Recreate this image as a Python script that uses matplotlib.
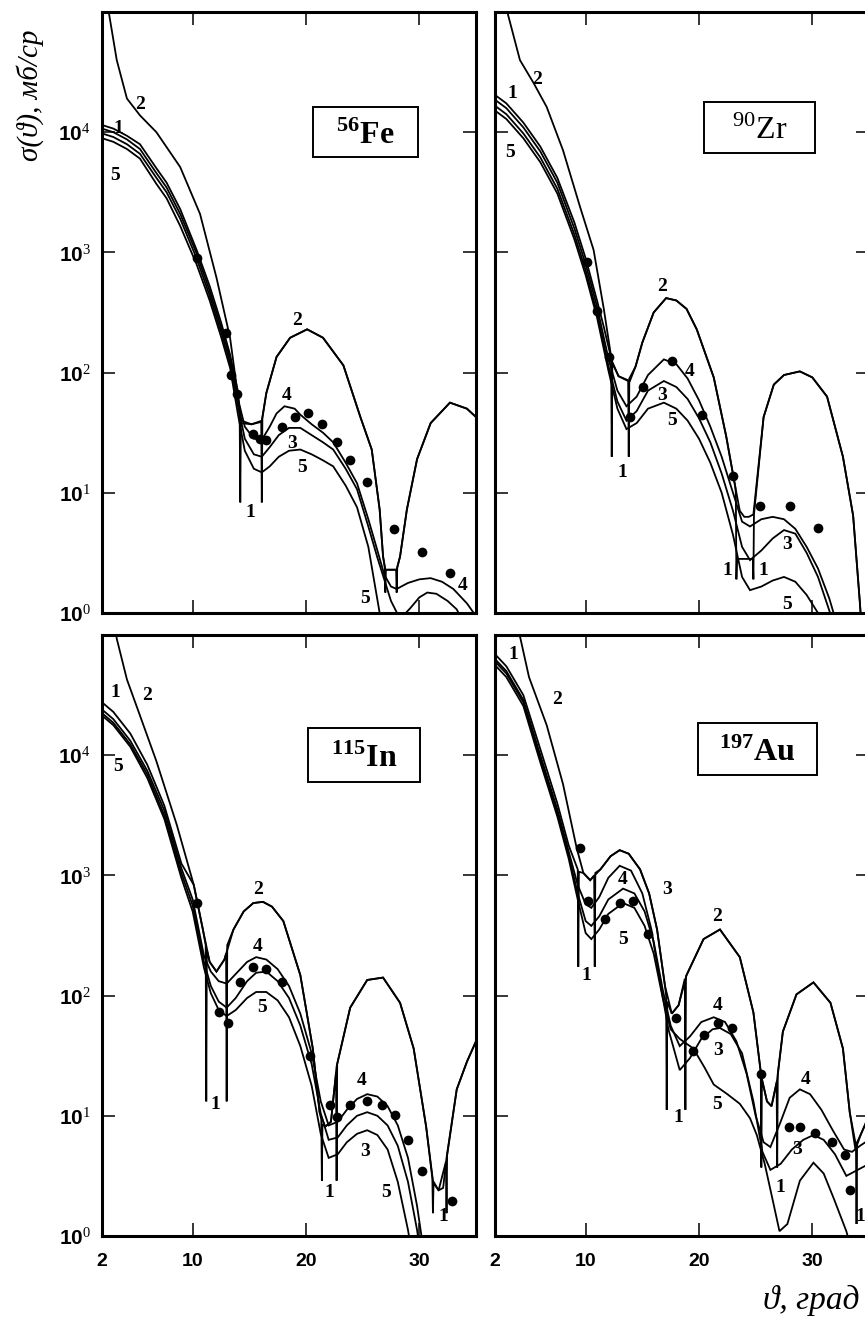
import numpy as np
import matplotlib
matplotlib.use("Agg")
import matplotlib.pyplot as plt
from matplotlib.patches import Rectangle
from matplotlib.ticker import NullLocator, FixedLocator, FixedFormatter

plt.rcParams['mathtext.fontset'] = 'custom'
plt.rcParams['mathtext.rm'] = 'Liberation Serif'
plt.rcParams['mathtext.bf'] = 'Liberation Serif:bold'
plt.rcParams['mathtext.sf'] = 'Liberation Sans:bold'
plt.rcParams['mathtext.it'] = 'Liberation Sans'

# ---------------- data (angles in degrees, cross sections as log10 of mb/sr) ----------------
# 56Fe
FE_C1_T = [2, 3, 4.2, 5.35, 6.8, 7.7, 8.9, 10.35, 11.5, 12.5, 13.3, 14.0, 14.15, 14.2, 14.25, 15.2, 16.05, 16.1, 16.15, 16.5,
           17.4, 18.6, 20.1, 21.5, 23.3, 24.8, 25.8, 26.5, 26.8, 26.95, 27.0, 27.05, 27.95, 28.0, 28.05, 28.3, 28.9, 29.8, 31.0, 32.7, 34.2, 35.0]
FE_C1_L = [4.06, 4.03, 3.97, 3.90, 3.70, 3.58, 3.36, 3.02, 2.72, 2.42, 2.15, 1.84, 1.62, 0.92, 1.58, 1.57, 1.59, 0.92, 1.62, 1.83,
           2.13, 2.29, 2.36, 2.29, 2.06, 1.63, 1.36, 0.86, 0.47, 0.38, 0.17, 0.36, 0.36, 0.17, 0.38, 0.47, 0.86, 1.28, 1.58, 1.75, 1.70, 1.63]
FE_C2_T = [2.3, 2.56, 3.3, 4.2, 5.35, 6.8, 8.9, 10.65, 12.1, 13.3, 14.0, 14.3, 15.2, 16.1, 16.5, 17.4, 18.6, 20.1, 21.5, 23.3, 24.8,
           25.8, 26.5, 26.8, 27.0, 28.0, 28.3, 28.9, 29.8, 31.0, 32.7, 34.2, 35.0]
FE_C2_L = [5.4, 5.02, 4.6, 4.28, 4.14, 4.0, 3.71, 3.32, 2.79, 2.29, 1.80, 1.60, 1.57, 1.60, 1.83, 2.13, 2.29, 2.36, 2.29, 2.06, 1.63,
           1.36, 0.86, 0.47, 0.36, 0.36, 0.47, 0.86, 1.28, 1.58, 1.75, 1.70, 1.63]
FE_C3_T = [2, 3, 4.2, 5.35, 6.8, 7.7, 8.9, 10.35, 11.5, 12.5, 13.3, 14.0, 14.6, 15.4, 16.1, 16.8, 17.6, 18.5, 19.5, 20.5, 21.5, 22.4,
           23.5, 24.5, 25.5, 26.3, 27.0, 27.5, 28.3, 29.2, 30.0, 30.7, 31.5, 32.5, 33.3, 34.0]
FE_C3_L = [3.99, 3.96, 3.90, 3.82, 3.62, 3.50, 3.28, 2.95, 2.64, 2.34, 2.08, 1.72, 1.45, 1.32, 1.30, 1.38, 1.48, 1.54, 1.54, 1.48, 1.42, 1.36,
           1.20, 1.03, 0.72, 0.46, 0.25, 0.10, -0.05, 0.04, 0.13, 0.17, 0.16, 0.10, 0.03, -0.1]
FE_C4_T = [2, 3, 4.2, 5.35, 6.8, 7.7, 8.9, 10.35, 11.5, 12.5, 13.3, 14.0, 14.6, 15.4, 16.1, 16.8, 17.4, 18.1, 19.0, 19.5, 20.5, 21.5,
           22.4, 23.5, 24.5, 25.5, 26.3, 26.9, 27.5, 28.0, 29.0, 30.0, 31.0, 32.0, 33.0, 34.2, 34.8]
FE_C4_L = [4.03, 4.0, 3.94, 3.86, 3.66, 3.54, 3.32, 2.99, 2.68, 2.38, 2.12, 1.78, 1.55, 1.45, 1.44, 1.55, 1.66, 1.72, 1.70, 1.65, 1.57, 1.50,
           1.42, 1.25, 1.08, 0.78, 0.52, 0.32, 0.22, 0.20, 0.25, 0.28, 0.29, 0.26, 0.20, 0.08, 0.0]
FE_C5_T = [2, 3, 4.2, 5.35, 6.8, 7.7, 8.9, 10.35, 11.5, 12.5, 13.3, 14.0, 14.6, 15.4, 16.1, 16.8, 17.6, 18.5, 19.5, 20.5, 21.5, 22.4,
           23.5, 24.5, 25.5, 26.5, 27.0]
FE_C5_L = [3.95, 3.92, 3.86, 3.78, 3.57, 3.45, 3.22, 2.90, 2.60, 2.30, 2.04, 1.65, 1.35, 1.20, 1.17, 1.22, 1.30, 1.35, 1.36, 1.32, 1.27, 1.22,
           1.06, 0.88, 0.55, 0.0, -0.3]
FE_EXP_T = [10.4, 12.9, 13.4, 13.9, 15.35, 15.9, 16.5, 17.9, 19.0, 20.2, 21.4, 22.7, 23.9, 25.4, 27.8, 30.2, 32.7]
FE_EXP_L = [2.95, 2.33, 1.98, 1.82, 1.49, 1.45, 1.44, 1.55, 1.63, 1.66, 1.57, 1.42, 1.27, 1.09, 0.70, 0.51, 0.33]

# 90Zr
ZR_C1_T = [2, 3, 4.5, 6, 7.5, 9, 10, 11, 11.6, 12.25, 12.3, 12.35, 12.9, 13.75, 13.8, 13.85, 14.4, 15.0, 16.0, 17.1, 18.0, 18.9,
           19.8, 21.3, 22.4, 23.2, 23.25, 23.3, 23.35, 24.0, 24.75, 24.8, 24.85, 25.7, 26.6, 27.5, 28.9, 30.0, 31.3, 32.7, 33.6, 34.2, 34.6]
ZR_C1_L = [4.31, 4.24, 4.08, 3.88, 3.62, 3.25, 2.95, 2.60, 2.38, 2.12, 1.3, 2.08, 1.97, 1.93, 1.3, 1.95, 2.05, 2.25, 2.50, 2.62, 2.60, 2.53,
           2.36, 1.96, 1.47, 1.05, 1.0, 0.28, 0.45, 0.45, 0.45, 0.28, 0.82, 1.63, 1.90, 1.98, 2.01, 1.96, 1.80, 1.30, 0.81, 0.08, -0.5]
ZR_C2_T = [2.9, 3.03, 4.2, 5.4, 6.56, 8.0, 9.5, 10.7, 11.6, 12.3, 12.9, 13.9, 14.4, 15.0, 16.0, 17.1, 18.0, 18.9, 19.8, 21.3, 22.4,
           23.2, 23.6, 24.0, 24.4, 24.8, 25.7, 26.6, 27.5, 28.9, 30.0, 31.3, 32.7, 33.6, 34.2, 34.6]
ZR_C2_L = [5.1, 5.02, 4.6, 4.41, 4.21, 3.85, 3.38, 3.02, 2.53, 2.10, 1.97, 1.93, 2.05, 2.25, 2.50, 2.62, 2.60, 2.53, 2.36, 1.96, 1.47,
           1.05, 0.85, 0.80, 0.80, 0.82, 1.63, 1.90, 1.98, 2.01, 1.96, 1.80, 1.30, 0.81, 0.08, -0.5]
ZR_T = [2, 3, 4.5, 6, 7.5, 9, 10, 11, 12, 12.8, 13.6, 14.5, 15.5, 16.9, 18.0, 19.0, 20.0, 21.0, 22.0, 23.0, 23.8, 24.5, 25.5, 26.5,
        27.5, 28.5, 29.5, 30.5, 31.5, 32.5]
ZR_C3_L = [4.22, 4.15, 3.99, 3.79, 3.53, 3.15, 2.85, 2.50, 2.06, 1.76, 1.60, 1.68, 1.85, 1.93, 1.88, 1.78, 1.62, 1.42, 1.16, 0.85, 0.55,
           0.44, 0.52, 0.62, 0.69, 0.66, 0.50, 0.30, 0.02, -0.3]
ZR_C4_L = [4.27, 4.20, 4.04, 3.84, 3.58, 3.20, 2.90, 2.55, 2.12, 1.85, 1.72, 1.80, 1.98, 2.11, 2.07, 1.95, 1.77, 1.55, 1.30, 1.0, 0.76,
           0.72, 0.78, 0.80, 0.78, 0.70, 0.55, 0.37, 0.12, -0.2]
ZR_C5_L = [4.18, 4.11, 3.95, 3.75, 3.49, 3.11, 2.81, 2.46, 2.02, 1.70, 1.53, 1.58, 1.70, 1.75, 1.70, 1.60, 1.45, 1.25, 1.0, 0.65, 0.30,
           0.19, 0.22, 0.27, 0.30, 0.26, 0.15, 0.0, -0.3, -0.6]
ZR_EXP_T = [10.1, 11.0, 12.1, 13.9, 15.1, 17.6, 20.3, 23.0, 25.4, 28.0, 30.5]
ZR_EXP_L = [2.92, 2.51, 2.13, 1.63, 1.88, 2.10, 1.65, 1.14, 0.89, 0.89, 0.71]

# 115In
IN_C1_T = [2, 3, 4.5, 6, 7.5, 9, 10.1, 10.9, 11.15, 11.2, 11.25, 11.5, 12.1, 12.8, 12.95, 13.0, 13.05, 13.6, 14.5, 15.35, 16.2, 17.0,
           18.0, 19.5, 20.6, 21.2, 21.35, 21.4, 21.45, 21.7, 22.2, 22.65, 22.7, 22.75, 23.9, 25.4, 26.8, 28.3, 29.5, 30.6, 31.15, 31.2,
           31.25, 31.7, 32.35, 32.4, 32.45, 33.3, 34.2, 35.0]
IN_C1_L = [4.44, 4.36, 4.18, 3.92, 3.58, 3.10, 2.92, 2.55, 2.42, 1.12, 2.38, 2.28, 2.20, 2.30, 2.35, 1.12, 2.42, 2.55, 2.70, 2.77, 2.78, 2.74,
           2.62, 2.17, 1.56, 1.03, 0.97, 0.46, 0.93, 0.91, 0.95, 1.35, 0.46, 1.43, 1.90, 2.13, 2.15, 1.94, 1.56, 0.91, 0.48, 0.19,
           0.44, 0.38, 0.62, 0.19, 0.67, 1.22, 1.45, 1.62]
IN_C2_T = [3.0, 3.3, 4.2, 5.35, 6.8, 8.6, 10.1, 10.9, 11.5, 12.1, 12.8, 13.6, 14.5, 15.35, 16.2, 17.0, 18.0, 19.5, 20.6, 21.2, 21.7,
           22.2, 22.7, 23.9, 25.4, 26.8, 28.3, 29.5, 30.6, 31.2, 31.7, 32.1, 32.4, 33.3, 34.2, 35.0]
IN_C2_L = [5.2, 4.97, 4.63, 4.33, 3.95, 3.42, 2.92, 2.55, 2.28, 2.20, 2.30, 2.55, 2.70, 2.77, 2.78, 2.74, 2.62, 2.17, 1.56, 1.03, 0.91,
           0.95, 1.41, 1.90, 2.13, 2.15, 1.94, 1.56, 0.91, 0.46, 0.38, 0.40, 0.65, 1.22, 1.45, 1.62]
IN_T = [2, 3, 4.5, 6, 7.5, 9, 10, 11, 11.6, 12.3, 13.0, 13.8, 14.8, 15.6, 16.5, 17.5, 18.5, 19.5, 20.5, 21.3, 22.0, 22.8, 23.6, 24.5,
        25.4, 26.3, 27.2, 28.1, 29.0, 29.8, 30.5]
IN_C3_L = [4.35, 4.27, 4.09, 3.84, 3.50, 3.02, 2.75, 2.28, 2.08, 1.95, 1.90, 1.98, 2.12, 2.19, 2.20, 2.12, 1.98, 1.75, 1.43, 1.02, 0.80,
           0.82, 0.92, 1.0, 1.03, 1.0, 0.92, 0.75, 0.45, 0.05, -0.4]
IN_C4_L = [4.38, 4.30, 4.12, 3.87, 3.54, 3.06, 2.80, 2.33, 2.20, 2.12, 2.10, 2.18, 2.28, 2.32, 2.30, 2.22, 2.08, 1.85, 1.52, 1.12, 0.92,
           0.95, 1.05, 1.14, 1.18, 1.16, 1.08, 0.92, 0.65, 0.25, -0.2]
IN_C5_L = [4.33, 4.25, 4.07, 3.81, 3.47, 2.98, 2.70, 2.23, 2.02, 1.88, 1.83, 1.88, 1.98, 2.03, 2.03, 1.96, 1.82, 1.58, 1.25, 0.85, 0.65,
           0.68, 0.78, 0.85, 0.88, 0.84, 0.72, 0.45, 0.05, -0.4, -0.8]
IN_EXP_T = [10.35, 12.3, 13.1, 14.2, 15.35, 16.5, 17.9, 20.35, 22.1, 22.7, 23.9, 25.35, 26.7, 27.85, 29.0, 30.2, 32.85]
IN_EXP_L = [2.77, 1.86, 1.77, 2.11, 2.24, 2.22, 2.11, 1.50, 1.09, 0.99, 1.09, 1.12, 1.09, 1.01, 0.80, 0.54, 0.29]

# 197Au
AU_C1_T = [2, 3, 4.5, 6, 7.5, 8.5, 9.3, 9.35, 9.4, 9.8, 10.4, 10.75, 10.8, 10.85, 11.3, 12.2, 13.0, 13.8, 14.8, 15.6, 16.3, 17.0,
           17.1, 17.15, 17.2, 17.6, 18.2, 18.75, 18.8, 18.85, 20.4, 21.85, 23.6, 24.8, 25.45, 25.5, 25.55, 26.0, 26.4, 26.85, 26.9,
           26.95, 27.4, 28.6, 30.1, 31.6, 32.7, 33.3, 33.85, 33.9, 33.95, 34.3, 35.0]
AU_C1_L = [4.84, 4.74, 4.50, 4.05, 3.60, 3.25, 3.05, 2.24, 3.03, 3.02, 2.96, 3.0, 2.24, 3.02, 3.05, 3.16, 3.21, 3.18, 3.05, 2.85, 2.55, 2.08,
           2.0, 1.05, 1.95, 1.85, 1.92, 2.14, 1.05, 2.16, 2.47, 2.55, 2.32, 1.86, 1.36, 0.57, 1.3, 1.12, 1.08, 1.28, 0.57,
           1.35, 1.7, 2.01, 2.11, 1.94, 1.56, 1.03, 0.75, 0.1, 0.78, 0.85, 1.0]
AU_C2_T = [3.9, 4.2, 5.0, 6.56, 8.0, 9.2, 9.8, 10.4, 11.3, 12.2, 13.0, 13.8, 14.8, 15.6, 16.3, 17.0, 17.6, 18.2, 18.9, 20.4, 21.85,
           23.6, 24.8, 25.5, 26.0, 26.4, 26.9, 27.4, 28.6, 30.1, 31.6, 32.7, 33.3, 33.8, 34.3, 35.0]
AU_C2_L = [5.2, 4.99, 4.65, 4.25, 3.76, 3.23, 3.02, 2.96, 3.05, 3.16, 3.21, 3.18, 3.05, 2.85, 2.55, 2.08, 1.85, 1.92, 2.17, 2.47, 2.55,
           2.32, 1.86, 1.33, 1.12, 1.08, 1.3, 1.7, 2.01, 2.11, 1.94, 1.56, 1.03, 0.72, 0.85, 1.0]
AU_C3_T = [2, 3, 4.5, 6, 7.5, 8.5, 9.3, 10.0, 10.5, 11.2, 12.0, 13.0, 14.0, 15.0, 15.8, 16.5, 17.3, 18.3, 19.2, 20.2, 21.2, 21.85,
           22.8, 23.8, 24.8, 25.6, 26.3, 27.2, 28.2, 29.2, 30.1, 31.0, 32.0, 33.0, 34.0, 35.0]
AU_C3_L = [4.80, 4.70, 4.46, 4.00, 3.55, 3.20, 2.92, 2.76, 2.73, 2.82, 2.98, 3.08, 3.04, 2.85, 2.55, 2.15, 1.72, 1.38, 1.48, 1.64, 1.72, 1.73,
           1.68, 1.52, 1.12, 0.70, 0.55, 0.60, 0.72, 0.80, 0.84, 0.80, 0.68, 0.50, 0.55, 0.60]
AU_C4_T = [2, 3, 4.5, 6, 7.5, 8.5, 9.3, 10.0, 10.5, 11.2, 12.0, 13.3, 14.3, 15.2, 16.0, 16.8, 17.5, 18.3, 19.2, 20.2, 21.3, 22.3,
           23.3, 24.2, 25.0, 25.7, 26.3, 27.2, 28.0, 28.9, 29.8, 30.8, 31.8, 32.8, 33.5, 34.2, 35.0]
AU_C4_L = [4.78, 4.68, 4.44, 3.97, 3.52, 3.17, 2.85, 2.62, 2.58, 2.66, 2.80, 2.89, 2.85, 2.70, 2.45, 2.05, 1.75, 1.58, 1.66, 1.78, 1.82, 1.78,
           1.62, 1.35, 1.00, 0.78, 0.74, 0.95, 1.15, 1.22, 1.18, 1.05, 0.88, 0.72, 0.70, 0.75, 0.80]
AU_C5_T = [2, 3, 4.5, 6, 7.5, 8.5, 9.3, 10.0, 10.5, 11.2, 12.0, 13.3, 14.3, 15.2, 16.0, 16.8, 17.5, 18.3, 19.5, 20.5, 21.3, 22.5,
           23.6, 24.5, 25.1, 25.8, 26.5, 27.1, 27.8, 28.9, 30.1, 31.0, 31.9, 33.0, 34.0]
AU_C5_L = [4.75, 4.65, 4.41, 3.94, 3.49, 3.14, 2.80, 2.52, 2.47, 2.55, 2.68, 2.77, 2.73, 2.58, 2.35, 1.98, 1.72, 1.64, 1.56, 1.40, 1.26, 1.18,
           1.10, 0.98, 0.84, 0.60, 0.30, 0.04, 0.10, 0.46, 0.61, 0.52, 0.31, 0.04, -0.3]
AU_EXP_T = [9.5, 10.2, 11.7, 13.0, 14.2, 15.5, 18.0, 19.5, 20.4, 21.7, 22.9, 25.5, 27.9, 28.9, 30.2, 31.7, 32.9, 33.3]
AU_EXP_L = [3.23, 2.79, 2.64, 2.77, 2.79, 2.51, 1.81, 1.54, 1.67, 1.77, 1.73, 1.35, 0.91, 0.91, 0.86, 0.78, 0.67, 0.38]

NUCLEI = [r'$^{\mathbf{56}}\mathbf{Fe}$', r'$^{90}\mathrm{Zr}$', r'$^{\mathbf{115}}\mathbf{In}$', r'$^{\mathbf{197}}\mathbf{Au}$']
X_TICKS = [2, 10, 20, 30]
X_TICKLABELS = ['2', '10', '20', '30']
Y_TICKS = [1, 10, 100, 1000, 10000]
Y_TICKLABELS = [r'$\mathsf{10}^{\mathit{%d}}$' % k for k in range(5)]

panels = [
    dict(curves=[(FE_C1_T, FE_C1_L), (FE_C2_T, FE_C2_L), (FE_C3_T, FE_C3_L), (FE_C4_T, FE_C4_L), (FE_C5_T, FE_C5_L)],
         exp=(FE_EXP_T, FE_EXP_L), name=NUCLEI[0], box=(0.705, 0.80, 0.28, 0.083),
         labels=[('2', 5.35, 4.23), ('1', 3.4, 4.03), ('5', 3.15, 3.64), ('2', 19.2, 2.43), ('4', 18.3, 1.81),
                 ('3', 18.8, 1.41), ('5', 19.65, 1.21), ('1', 15.1, 0.84), ('5', 25.2, 0.12), ('4', 33.8, 0.23)]),
    dict(curves=[(ZR_C1_T, ZR_C1_L), (ZR_C2_T, ZR_C2_L), (ZR_T, ZR_C3_L), (ZR_T, ZR_C4_L), (ZR_T, ZR_C5_L)],
         exp=(ZR_EXP_T, ZR_EXP_L), name=NUCLEI[1], box=(0.707, 0.808, 0.297, 0.085),
         labels=[('2', 5.7, 4.44), ('1', 3.5, 4.32), ('5', 3.3, 3.83), ('2', 16.7, 2.72), ('4', 19.2, 2.01),
                 ('3', 16.7, 1.81), ('5', 17.6, 1.60), ('1', 13.2, 1.17), ('3', 27.8, 0.57), ('1', 22.5, 0.35),
                 ('1', 25.7, 0.35), ('5', 27.8, 0.07)]),
    dict(curves=[(IN_C1_T, IN_C1_L), (IN_C2_T, IN_C2_L), (IN_T, IN_C3_L), (IN_T, IN_C4_L), (IN_T, IN_C5_L)],
         exp=(IN_EXP_T, IN_EXP_L), name=NUCLEI[2], box=(0.70, 0.80, 0.30, 0.09),
         labels=[('1', 3.15, 4.52), ('2', 5.95, 4.50), ('5', 3.4, 3.91), ('2', 15.8, 2.88), ('4', 15.7, 2.41),
                 ('5', 16.1, 1.90), ('1', 12.0, 1.09), ('4', 24.9, 1.29), ('3', 25.2, 0.70), ('1', 22.1, 0.36),
                 ('5', 27.1, 0.36), ('1', 32.1, 0.16)]),
    dict(curves=[(AU_C1_T, AU_C1_L), (AU_C2_T, AU_C2_L), (AU_C3_T, AU_C3_L), (AU_C4_T, AU_C4_L), (AU_C5_T, AU_C5_L)],
         exp=(AU_EXP_T, AU_EXP_L), name=NUCLEI[3], box=(0.702, 0.81, 0.318, 0.087),
         labels=[('1', 3.6, 4.84), ('2', 7.5, 4.46), ('4', 13.3, 2.97), ('3', 17.2, 2.88), ('5', 13.3, 2.47),
                 ('1', 10.1, 2.17), ('2', 21.6, 2.66), ('4', 21.6, 1.92), ('3', 21.7, 1.54), ('1', 18.2, 0.99),
                 ('5', 21.6, 1.09), ('4', 29.4, 1.30), ('3', 28.65, 0.72), ('1', 27.2, 0.40), ('1', 34.2, 0.16)]),
]

W, H = 865, 1325
fig = plt.figure(figsize=(W / 100, H / 100), dpi=100)
fig.patch.set_facecolor('white')

ax_w, ax_h = 374 / W, 601 / H
lefts = [102 / W, 495 / W]
bottoms = [1 - 613 / H, 1 - 1236 / H]
positions = [(lefts[0], bottoms[0]), (lefts[1], bottoms[0]), (lefts[0], bottoms[1]), (lefts[1], bottoms[1])]

for i, (p, pos) in enumerate(zip(panels, positions)):
    ax = fig.add_axes([pos[0], pos[1], ax_w, ax_h])
    ax.set_yscale('log')
    for t, lg in p['curves']:
        ax.plot(t, 10 ** np.asarray(lg), color='black', lw=1.3, solid_joinstyle='miter')
    et, el = p['exp']
    ax.plot(et, 10 ** np.asarray(el), 'o', color='black', ms=7, mew=0)
    for txt, t, lg in p['labels']:
        ax.text(t, 10 ** lg, txt, fontsize=14, fontweight='bold', family='Liberation Serif',
                ha='center', va='center')
    cx, cy, bw, bh = p['box']
    ax.add_patch(Rectangle((cx - bw / 2, cy - bh / 2), bw, bh, transform=ax.transAxes,
                           fill=False, lw=1.4, color='black'))
    ax.text(cx, cy - 0.005, p['name'], transform=ax.transAxes, ha='center', va='center', fontsize=23)

    ax.set_xlim(2, 35)
    ax.set_ylim(1, 1e5)
    ax.xaxis.set_major_locator(FixedLocator(X_TICKS))
    ax.yaxis.set_major_locator(FixedLocator(Y_TICKS))
    ax.yaxis.set_minor_locator(NullLocator())
    ax.xaxis.set_minor_locator(NullLocator())
    ax.tick_params(which='major', direction='in', top=True, right=True, length=9.5, width=1.1)
    ax.tick_params(axis='y', pad=8)
    ax.tick_params(axis='x', pad=12)
    for s in ax.spines.values():
        s.set_linewidth(2.2)
    if i % 2 == 0:
        ax.yaxis.set_major_formatter(FixedFormatter(Y_TICKLABELS))
        for lab in ax.get_yticklabels():
            lab.set_fontsize(15)
    else:
        ax.set_yticklabels([])
    if i >= 2:
        ax.set_xticklabels(X_TICKLABELS, fontsize=14, fontweight='bold', family='Liberation Sans')
    else:
        ax.set_xticklabels([])

fig.text(30 / W, 1 - 95 / H, 'σ(ϑ), мб/ср', rotation=90, fontsize=21, style='italic',
         family=['Liberation Serif', 'DejaVu Serif'], ha='center', va='center')
fig.text(763 / W, 1 - 1300 / H, 'ϑ, град', fontsize=24, style='italic',
         family=['Liberation Serif', 'DejaVu Serif'], ha='left', va='center')

fig.savefig('out.png', dpi=100)
